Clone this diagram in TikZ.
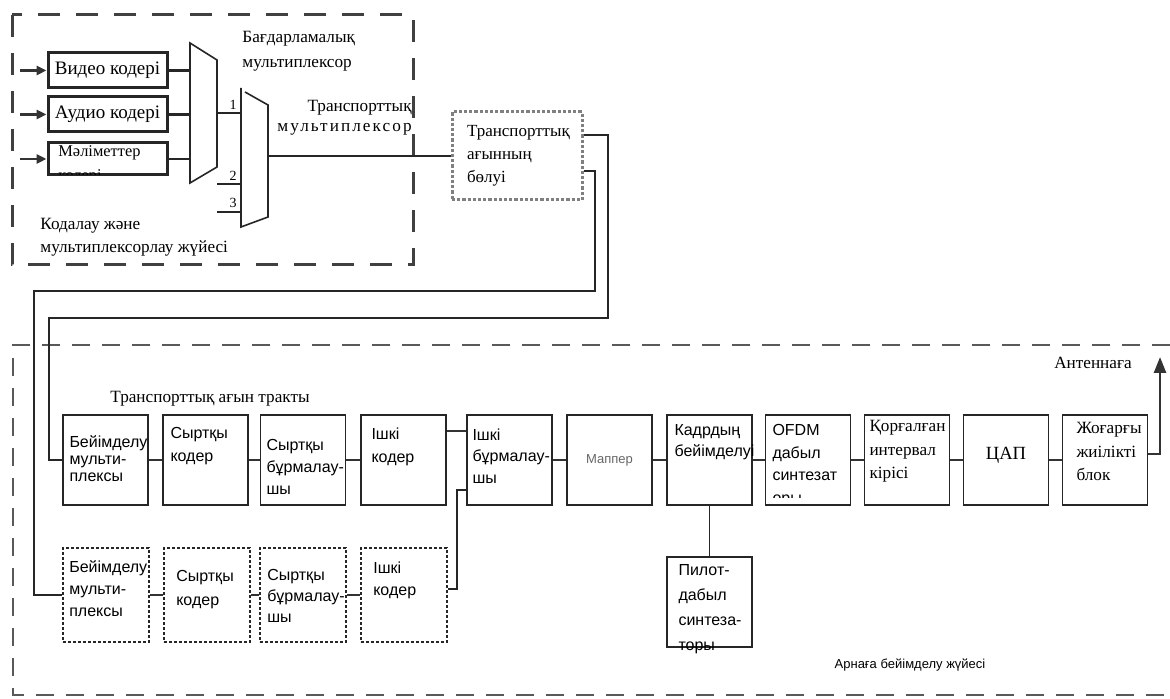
\documentclass[tikz,border=0pt]{standalone}
\usepackage{fontspec}
\setmainfont{Liberation Serif}
\setsansfont{Liberation Sans}
\usetikzlibrary{arrows.meta}

\begin{document}
\begin{tikzpicture}[
    x=.5pt, y=-.5pt,
    blk/.style={draw=black!85, line width=.9pt, minimum width=42.5pt,
        minimum height=45pt, inner sep=0pt},
    blkdot/.style={blk, line width=1.1pt, dash pattern=on 1.6pt off .9pt,
        minimum width=43pt, minimum height=47pt},
    coder/.style={draw=black!85, line width=1.5pt, minimum width=59.5pt,
        minimum height=17.5pt, inner sep=0pt, font=\fontsize{9.5}{11}\selectfont},
    splitbox/.style={draw=black!50, line width=1.5pt, dash pattern=on 1.6pt off 1pt,
        minimum width=65pt, minimum height=44pt, inner sep=0pt},
    sanstext/.style={font=\sffamily\fontsize{8}{#1}\selectfont, align=left,
        inner sep=0pt, anchor=north west},
    sanstext/.default=11,
    seriftext/.style={font=\fontsize{8.6}{#1}\selectfont, align=left,
        inner sep=0pt, anchor=north west},
    seriftext/.default=11.5,
    numlabel/.style={font=\fontsize{7}{8}\selectfont, inner sep=0pt},
    conn/.style={draw=black!80, line width=1.3pt},
    route/.style={draw=black!85, line width=1.1pt},
    mux/.style={draw=black!85, line width=.8pt},
    frame/.style={draw=black!75, line width=1.5pt, dash pattern=on 11pt off 8pt},
    chanframe/.style={draw=black!65, line width=1.3pt, dash pattern=on 9pt off 6pt},
]
    \useasboundingbox (0,0) rectangle (1170,699);

    %% the coding and multiplexing system, in its dashed frame
    \draw[frame] (12,15) rectangle (413,265);
    \node[coder] (video) at (107.5,70.5) {Видео кодері};
    \node[coder] (audio) at (107.5,114.5) {Аудио кодері};
    \node[coder, minimum height=16pt] (data) at (107.5,159) {};
    \begin{scope}
        \clip (data.north west) rectangle ([yshift=.75pt]data.south east);
        \node[seriftext=12, font=\fontsize{8.2}{12}\selectfont] (data-t)
            at (58,145) {Мәліметтер\\кодері};
    \end{scope}
    \foreach \b/\y in {video/70.5, audio/114.5, data/159}{
        \coordinate (\b-in) at (20,\y);
        \draw[conn, -{Triangle[length=5pt, width=4.5pt]}] (\b-in) -- (\b);
    }

    %% programme multiplexer, then the transport multiplexer
    \draw[mux] (190,43) coordinate (pm-nw) -- (217,60) -- (217,167)
        -- (190,183) -- cycle;
    \foreach \b in {video, audio, data}
        \draw[route] (\b) -- (\b -| pm-nw);
    \draw[mux] (245,92) -- (268,105) -- (268,217) -- (241,227) -- (241,88);
    \coordinate (pm-out) at (217,113);
    \coordinate (tm-in1) at (241,113);
    \coordinate (in2) at (217,184);
    \coordinate (tm-in2) at (241,184);
    \coordinate (in3) at (217,212);
    \coordinate (tm-in3) at (241,212);
    \draw[route] (pm-out) -- (tm-in1);
    \draw[route] (in2) -- (tm-in2);
    \draw[route] (in3) -- (tm-in3);
    \node[numlabel] (n1) at (233,105) {1};
    \node[numlabel] (n2) at (233,176) {2};
    \node[numlabel] (n3) at (233,203) {3};

    \node[seriftext=12.5] (pmux-lbl) at (242,31) {Бағдарламалық\\мультиплексор};
    \node[seriftext=10, anchor=north east, align=right] (tmux-lbl) at (412,100)
        {Транспорттық\\\addfontfeature{LetterSpace=12}мультиплексор};
    \node[seriftext] (coding-lbl) at (40,218) {Кодалау және\\мультиплексорлау жүйесі};

    %% transport stream splitter
    \node[splitbox, text width=50pt, align=left, font=\fontsize{8.5}{11.5}\selectfont]
        (split) at (517,156) {Транспорттық\\ағынның\\бөлуі};
    \coordinate (tm-out) at (268,156);
    \draw[route] (tm-out) -- (split);

    %% the channel adaptation system
    \draw[chanframe] (1170,345) -- (13,345) -- (13,695) -- (1170,695);
    \node[seriftext] (ts-lbl) at (110,391) {Транспорттық ағын тракты};
    \node[font=\sffamily\fontsize{6.5}{8}\selectfont, inner sep=0pt] (chan-lbl)
        at (910,665) {Арнаға бейімделу жүйесі};

    %% main transport stream path
    \foreach \name/\x in {adapt/105.5, outcod/205.5, outint/303, incod/403.5,
            inint/509.5, mapper/609.5, frame/709.5, ofdm/808, guard/907,
            dac/1006, rf/1105}
        \node[blk] (\name) at (\x,460) {};
    \node[sanstext=8.5] (adapt-t) at ([shift={(7,21)}]adapt.north west)
        {Бейімделу\\мульти-\\плексы};
    \node[sanstext=11.5] (outcod-t) at ([shift={(8,13)}]outcod.north west)
        {Сыртқы\\кодер};
    \node[sanstext=11] (outint-t) at ([shift={(6.5,25)}]outint.north west)
        {Сыртқы\\бұрмалау-\\шы};
    \node[sanstext=11.5] (incod-t) at ([shift={(11,13)}]incod.north west)
        {Ішкі\\кодер};
    \node[sanstext=10.8] (inint-t) at ([shift={(6,14)}]inint.north west)
        {Ішкі\\бұрмалау-\\шы};
    \node[font=\sffamily\fontsize{6.5}{8}\selectfont, text=black!60, inner sep=0pt]
        (mapper-t) at (mapper) {Маппер};
    \node[sanstext=10.5] (frame-t) at ([shift={(8,10)}]frame.north west)
        {Кадрдың\\бейімделуі};
    \begin{scope}
        \clip (ofdm.north west) rectangle ([yshift=4pt]ofdm.south east);
        \node[sanstext=11.3] (ofdm-t) at ([shift={(7.5,10)}]ofdm.north west)
            {OFDM\\дабыл\\синтезат\\оры};
    \end{scope}
    \node[seriftext=11.75] (guard-t) at ([shift={(5.5,6)}]guard.north west)
        {Қорғалған\\интервал\\кірісі};
    \node[font=\fontsize{9.3}{11}\selectfont, inner sep=0pt] (dac-t)
        at ([yshift=2.5pt]dac.center) {ЦАП};
    \node[seriftext=11.75] (rf-t) at ([shift={(14.5,8)}]rf.north west)
        {Жоғарғы\\жиілікті\\блок};

    \foreach \a/\b in {adapt/outcod, outcod/outint, outint/incod, inint/mapper,
            mapper/frame, frame/ofdm, ofdm/guard, guard/dac, dac/rf}
        \draw[conn] (\a) -- (\b);
    \draw[conn] ([yshift=14.5pt]incod.east) -- ([yshift=14.5pt]inint.west);

    %% second (dotted) path
    \foreach \name/\x in {adaptb/106, outcodb/207, outintb/303, incodb/404}
        \node[blkdot] (\name) at (\x,595) {};
    \node[sanstext=11] (adaptb-t) at ([shift={(7,13)}]adaptb.north west)
        {Бейімделу\\мульти-\\плексы};
    \node[sanstext=12] (outcodb-t) at ([shift={(13,23)}]outcodb.north west)
        {Сыртқы\\кодер};
    \node[sanstext=10.5] (outintb-t) at ([shift={(8,22)}]outintb.north west)
        {Сыртқы\\бұрмалау-\\шы};
    \node[sanstext=11] (incodb-t) at ([shift={(13,15)}]incodb.north west)
        {Ішкі\\кодер};
    \foreach \a/\b in {adaptb/outcodb, outcodb/outintb, outintb/incodb}
        \draw[conn] (\a) -- (\b);
    \draw[route] ([yshift=3pt]incodb.east) -| ([xshift=-4.5pt, yshift=-15pt]inint.west)
        -- ([yshift=-15pt]inint.west);

    %% the two streams from the splitter
    \draw[route] ([yshift=10.5pt]split.east) -| (608,318) -- (49,318) |- (adapt);
    \draw[route] ([yshift=-7.5pt]split.east) -| (595,291) -- (34,291) |- (adaptb);

    %% pilot signals
    \node[blk] (pilot) at (709.5,602) {};
    \node[sanstext=12.5] (pilot-t) at ([shift={(12,8)}]pilot.north west)
        {Пилот-\\дабыл\\синтеза-\\торы};
    \draw[mux] (frame) -- (pilot);

    %% to the antenna
    \coordinate (ant) at (1160,357);
    \draw[conn, -{Triangle[length=8pt, width=6pt]}] ([yshift=3pt]rf.east) -| (ant);
    \node[seriftext, anchor=center] (ant-lbl) at (1093,363) {Антеннаға};
\end{tikzpicture}
\end{document}
